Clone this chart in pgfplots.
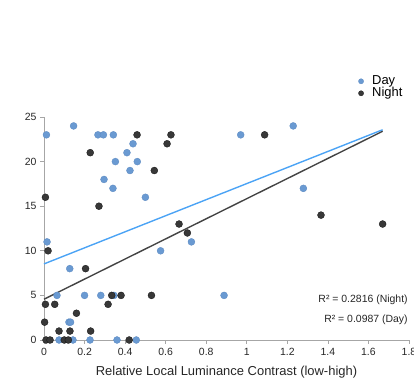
\documentclass[border=0pt]{standalone}
\usepackage{fontspec}
\setmainfont{Liberation Sans}
\usepackage{pgfplots}
\pgfplotsset{compat=1.18}
\definecolor{dayc}{HTML}{6A9AD2}
\definecolor{dayedge}{HTML}{5A88C0}
\definecolor{nightc}{HTML}{383838}
\definecolor{nightedge}{HTML}{111111}
\definecolor{dayline}{HTML}{4BA3F5}
\definecolor{nightline}{HTML}{444444}
\definecolor{axc}{HTML}{A6A6A6}
\begin{document}
\begin{tikzpicture}[x=1bp,y=1bp]
\useasboundingbox (0,0) rectangle (414,380);
\begin{axis}[
  at={(44bp,40bp)}, anchor=origin,
  scale only axis, width=365bp, height=223bp,
  xmin=0, xmax=1.8, ymin=0, ymax=25,
  axis lines*=left,
  axis line style={draw=axc, line width=0.8pt, -},
  xtick={0,0.2,...,1.8}, ytick={0,5,...,25},
  tick align=outside, tick style={draw=axc, line width=0.6pt},
  major tick length=4bp,
  clip=false,
  /pgf/number format/assume math mode=true,
  ticklabel style={font=\fontsize{10.5}{12}\selectfont, text=black!85},
  xticklabel style={yshift=-1bp},
  xlabel={Relative Local Luminance Contrast (low-high)},
  xlabel style={font=\fontsize{13}{14}\selectfont, text=black!85, yshift=-3bp},
  legend style={at={(0.861,1.188)}, anchor=north west, draw=none, fill=none,
    font=\fontsize{13}{13}\selectfont, row sep=0pt, inner sep=0pt,
    nodes={inner sep=0pt, text height=9bp, text depth=3bp},
    /tikz/every odd column/.append style={column sep=8.5bp}},
  legend cell align=left,
  legend image code/.code={\draw[#1, mark size=2.6bp] plot coordinates {(0bp,0bp)};},
]
\addplot[only marks, mark=*, mark size=3.5bp, mark options={fill=dayc, draw=dayedge, line width=0.3pt}] coordinates {
(0.012,23) (0.146,24) (0.266,23) (0.293,23) (0.342,23) (0.352,20) (0.296,18) (0.340,17)
(0.409,21) (0.439,22) (0.460,20) (0.424,19) (0.500,16) (0.015,11) (0.575,10) (0.727,11)
(0.127,8) (0.064,5) (0.200,5) (0.280,5) (0.345,5) (0.123,2) (0.131,2)
(0.074,0) (0.143,0) (0.227,0) (0.360,0) (0.455,0)
(0.970,23) (1.229,24) (1.279,17) (0.888,5)
};
\addlegendentry{Day}
\addplot[only marks, mark=*, mark size=3.5bp, mark options={fill=nightc, draw=nightedge, line width=0.3pt}] coordinates {
(0.007,16) (0.020,10) (0.007,4) (0.053,4) (0.003,2) (0.160,3) (0.074,1) (0.128,1) (0.230,1)
(0.010,0) (0.030,0) (0.100,0) (0.120,0) (0.420,0)
(0.205,8) (0.228,21) (0.271,15) (0.316,4) (0.334,5) (0.380,5) (0.530,5)
(0.459,23) (0.544,19) (0.607,22) (0.626,23) (0.666,13) (0.707,12)
(1.088,23) (1.366,14) (1.670,13)
};
\addlegendentry{Night}
\addplot[dayline, line width=1.4pt, forget plot] coordinates {(0,8.53) (1.67,23.57)};
\addplot[nightline, line width=1.4pt, forget plot] coordinates {(0,4.57) (1.67,23.40)};
\node[anchor=east, font=\fontsize{10.5}{12}\selectfont, text=black!85, inner sep=0pt] at (axis description cs:0.997,0.179) {R² = 0.2816 (Night)};
\node[anchor=east, font=\fontsize{10.5}{12}\selectfont, text=black!85, inner sep=0pt] at (axis description cs:0.997,0.090) {R² = 0.0987 (Day)};
\end{axis}
\end{tikzpicture}
\end{document}
